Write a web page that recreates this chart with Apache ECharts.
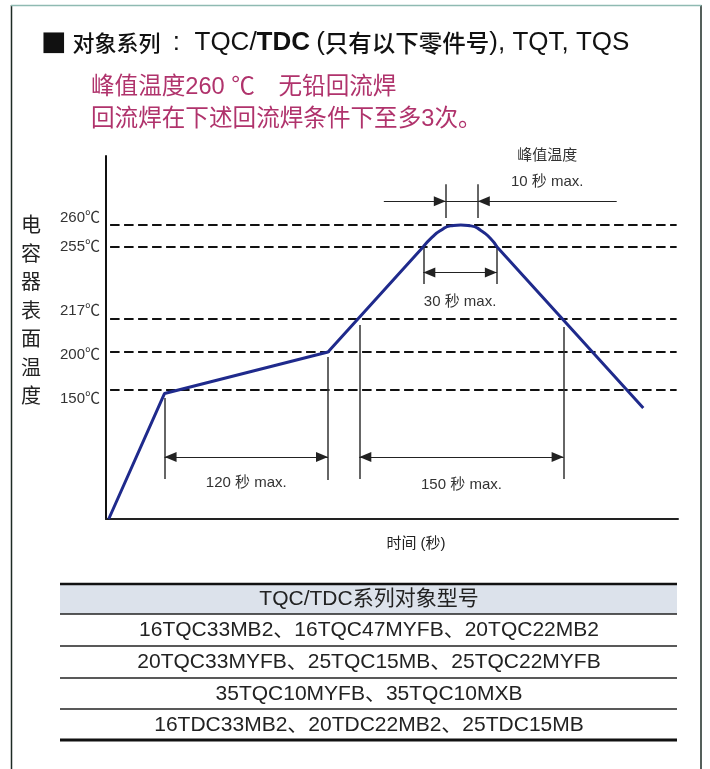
<!DOCTYPE html>
<html><head><meta charset="utf-8">
<script src="https://cdn.jsdelivr.net/npm/echarts@6/dist/echarts.min.js"></script>
<style>html,body{margin:0;padding:0;background:#fff}#c{width:710px;height:769px}</style>
</head><body><div id="c"></div><script>
// ---------- data ----------
const tempLevels = [150, 200, 217, 255, 260];
const tempLevelLabels = ['150℃', '200℃', '217℃', '255℃', '260℃'];
// reflow profile: time (s) / temperature (℃)
const profileTime = [2, 43, 163, 233, 239.5, 246, 253, 260.5, 268, 275, 282, 287, 394.5];
const profileTemp = [25, 146, 200, 255, 257.2, 258.8, 259.8, 260, 259.8, 258.8, 257, 255, 132];
const arcStart = 3, arcEnd = 11; // rounded peak section of the profile
// dimensioned intervals (s)
const preheatTimes = [43, 163];      // 120 秒 max.
const above217Times = [186, 336];    // 150 秒 max.
const above255Times = [233, 287];    // 30 秒 max.
const peakTimes = [249.5, 273];      // 10 秒 max.
const preheatLabel = '120 秒 max.';
const above217Label = '150 秒 max.';
const above255Label = '30 秒 max.';
const peakLabel = '峰值温度\n10 秒 max.';
const tableHeader = 'TQC/TDC系列对象型号';
const tableRows = [
  '16TQC33MB2、16TQC47MYFB、20TQC22MB2',
  '20TQC33MYFB、25TQC15MB、25TQC22MYFB',
  '35TQC10MYFB、35TQC10MXB',
  '16TDC33MB2、20TDC22MB2、25TDC15MB'
];

// ---------- schematic (non-linear) temperature scale ----------
const knotT = [25, 150, 200, 217, 255, 260];
const knotH = [0, 129.7, 167, 200, 272.3, 294];
function yPos(t) {
  let i = 0;
  while (i < knotT.length - 2 && t > knotT[i + 1]) i++;
  const f = (t - knotT[i]) / (knotT[i + 1] - knotT[i]);
  return knotH[i] + f * (knotH[i + 1] - knotH[i]);
}
const labelShift = [-10, -3, 8, 0, 7]; // label offsets vs. dashed line (px)
const labelPos = tempLevels.map((t, i) => yPos(t) + labelShift[i]);

const FONT = '"Liberation Sans", "Noto Sans CJK SC", sans-serif';
const ink = '#333';
const ARROW = { symbol: 'triangle', symbolSize: [10, 12], symbolOffset: [0, 6] };

function pt(t, T, sym) {
  const p = { coord: [t, yPos(T)], symbol: 'none', symbolSize: 10 };
  if (sym) Object.assign(p, ARROW);
  return p;
}
function seg(t1, T1, t2, T2, o) {
  o = o || {};
  const a = pt(t1, T1, o.s1), b = pt(t2, T2, o.s2);
  a.lineStyle = o.ls || { color: '#222', width: 1.2, type: 'solid' };
  a.label = o.label ? { show: true, formatter: o.label, position: o.pos || 'insideMiddleBottom',
    distance: o.dist || 12, color: ink, fontSize: 15, fontFamily: FONT, lineHeight: 26 } : { show: false };
  return [a, b];
}
const extStyle = { color: '#333', width: 1.5, type: 'solid' };
const dashStyle = { color: '#111', width: 2, type: [9.5, 4.5] };

const marks = [];
tempLevels.forEach(T => marks.push(seg(3, T, 419, T, { ls: dashStyle })));
// 120 s
marks.push(seg(preheatTimes[0], 63.6, preheatTimes[0], 141.6, { ls: extStyle }));
marks.push(seg(preheatTimes[1], 62.6, preheatTimes[1], 193.3, { ls: extStyle }));
marks.push(seg(preheatTimes[0], 84.8, preheatTimes[1], 84.8, { s1: 1, s2: 1, label: preheatLabel, dist: 13 }));
// 150 s
marks.push(seg(above217Times[0], 63.6, above217Times[0], 213.9, { ls: extStyle }));
marks.push(seg(above217Times[1], 63.6, above217Times[1], 212.9, { ls: extStyle }));
marks.push(seg(above217Times[0], 84.8, above217Times[1], 84.8, { s1: 1, s2: 1, label: above217Label, dist: 15 }));
// 30 s
marks.push(seg(above255Times[0], 235.4, above255Times[0], 255.2, { ls: extStyle }));
marks.push(seg(above255Times[1], 235.4, above255Times[1], 255.2, { ls: extStyle }));
marks.push(seg(above255Times[0], 241.5, above255Times[1], 241.5, { s1: 1, s2: 1, label: above255Label, dist: 16 }));
// 10 s peak
marks.push(seg(peakTimes[0], 261.6, peakTimes[0], 269.4, { ls: extStyle }));
marks.push(seg(peakTimes[1], 261.6, peakTimes[1], 269.4, { ls: extStyle }));
marks.push(seg(204, 265.5, peakTimes[0], 265.5, { s2: 1 }));
marks.push(seg(peakTimes[0], 265.5, peakTimes[1], 265.5, {}));
marks.push(seg(peakTimes[1], 265.5, 375, 265.5, { s1: 1, label: peakLabel, pos: 'insideMiddleTop', dist: 6 }));

const gl = (x1, y1, x2, y2, c, w) => ({ type: 'line', silent: true, shape: { x1, y1, x2, y2 }, style: { stroke: c, lineWidth: w } });
const tableY = [584, 614, 646, 678, 709, 740];
const graphics = [
  gl(11.5, 5, 11.5, 769, '#1d2b24', 1.5),
  gl(701, 5, 701, 769, '#1d2b24', 1.5),
  gl(11, 5.5, 701.5, 5.5, '#8fbab2', 1.5),
  { type: 'rect', silent: true, shape: { x: 60, y: tableY[0], width: 617, height: tableY[1] - tableY[0] }, style: { fill: '#dce2eb' } },
  gl(60, tableY[0], 677, tableY[0], '#111', 2.5),
  gl(60, tableY[1], 677, tableY[1], '#222', 1.5),
  gl(60, tableY[2], 677, tableY[2], '#222', 1.5),
  gl(60, tableY[3], 677, tableY[3], '#222', 1.5),
  gl(60, tableY[4], 677, tableY[4], '#222', 1.5),
  gl(60, tableY[5], 677, tableY[5], '#111', 3)
];
[tableHeader].concat(tableRows).forEach((txt, i) => {
  graphics.push({ type: 'text', silent: true, x: 369, y: (tableY[i] + tableY[i + 1]) / 2 + 0.5,
    style: { text: txt, align: 'center', verticalAlign: 'middle', fill: '#222', fontSize: 21, fontFamily: FONT } });
});

const pts = profileTime.map((t, i) => [t, yPos(profileTemp[i])]);
const straightPts = pts.map((p, i) => (i > arcStart && i < arcEnd) ? [p[0], null] : p);
const arcPts = pts.slice(arcStart, arcEnd + 1);

const chart = echarts.init(document.getElementById('c'), null, { renderer: 'canvas' });
chart.setOption({
  animation: false,
  backgroundColor: '#fff',
  title: [
    { text: '{sq|■} {c|对象系列}  {l|:  TQC/}{b|TDC} {l|(}{c2|只有以下零件号}{l|), TQT, TQS}', left: 41, top: 29, padding: 0,
      textStyle: { fontSize: 22, color: '#111', fontFamily: FONT, lineHeight: 28,
        rich: {
          sq: { fontSize: 27, color: '#111', fontFamily: '"DejaVu Sans", sans-serif', lineHeight: 28 },
          c: { fontSize: 22, fontWeight: 500, color: '#111', fontFamily: '"Noto Sans CJK SC"', lineHeight: 28 },
          c2: { fontSize: 23.5, fontWeight: 500, color: '#111', fontFamily: '"Noto Sans CJK SC"', lineHeight: 28 },
          l: { fontSize: 26, fontWeight: 'normal', color: '#111', fontFamily: FONT, lineHeight: 28 },
          b: { fontSize: 26, fontWeight: 'bold', color: '#111', fontFamily: FONT, lineHeight: 28 }
        } } },
    { text: '峰值温度260 ℃　无铅回流焊\n回流焊在下述回流焊条件下至多3次。', left: 91, top: 72, padding: 0,
      textStyle: { fontSize: 23.6, fontWeight: 'normal', color: '#b0336c', fontFamily: FONT, lineHeight: 31.5 } }
  ],
  grid: { left: 106, right: 32, top: 156, bottom: 250, containLabel: false },
  xAxis: {
    type: 'value', min: 0, max: 420,
    name: '时间 (秒)', nameLocation: 'middle', nameGap: 25,
    nameTextStyle: { fontSize: 15, color: '#222', fontFamily: FONT, align: 'center', verticalAlign: 'middle', padding: [0, 0, 0, 48] },
    axisLine: { show: true, lineStyle: { color: '#222', width: 2 } },
    axisTick: { show: false }, axisLabel: { show: false }, splitLine: { show: false }
  },
  yAxis: {
    type: 'value', min: 0, max: 363,
    name: '电\n容\n器\n表\n面\n温\n度\n{s| }', nameLocation: 'middle', nameGap: 75, nameRotate: 0,
    nameTextStyle: { fontSize: 20, color: '#222', fontFamily: FONT, lineHeight: 28.5, align: 'center', verticalAlign: 'middle',
      rich: { s: { fontSize: 1, lineHeight: 51 } } },
    axisLine: { show: true, lineStyle: { color: '#111', width: 2 } },
    axisTick: { show: false }, splitLine: { show: false },
    axisLabel: {
      show: true, customValues: labelPos, margin: 6, fontSize: 15, color: ink, fontFamily: FONT,
      formatter: v => {
        let best = 0;
        labelPos.forEach((p, i) => { if (Math.abs(p - v) < Math.abs(labelPos[best] - v)) best = i; });
        return tempLevelLabels[best];
      }
    }
  },
  graphic: graphics,
  series: [{
    type: 'line', data: straightPts, connectNulls: false,
    symbol: 'none', lineStyle: { color: '#1f2a8c', width: 3 }, z: 5,
    markLine: { silent: true, animation: false, symbol: ['none', 'none'], data: marks, z: 3 }
  }, {
    type: 'line', data: arcPts, smooth: 0.6,
    symbol: 'none', lineStyle: { color: '#1f2a8c', width: 3 }, z: 5
  }]
});
</script></body></html>
